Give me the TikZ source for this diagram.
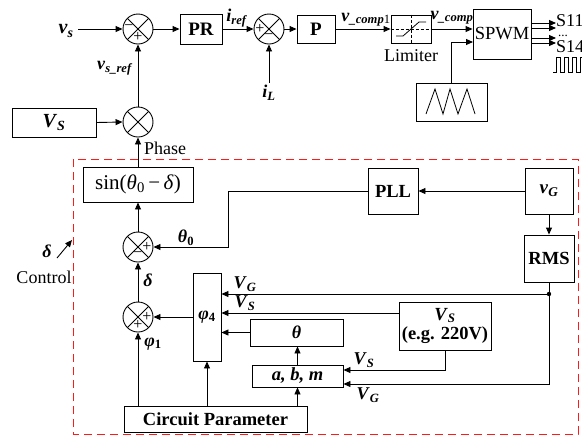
\documentclass[tikz,border=0pt]{standalone}
\usepackage{fontspec}
\setmainfont{Liberation Serif}
\usetikzlibrary{arrows.meta,calc}
\newcommand\bv[2]{\textbf{\textit{#1}}\textsubscript{\textbf{\textit{#2}}}}
\newcommand\fs[1]{\fontsize{#1}{#1}\selectfont}
\tikzset{
  blk/.style={draw,line width=0.9pt,inner sep=0pt,align=center},
  sumj/.style={circle,draw,line width=0.9pt,minimum size=30pt,inner sep=0pt,
    path picture={\draw[line width=0.9pt] (path picture bounding box.north west)--(path picture bounding box.south east)
      (path picture bounding box.north east)--(path picture bounding box.south west);}},
  arr/.style={line width=0.9pt,-{Triangle[length=7pt,width=6pt]}},
  ln/.style={line width=0.9pt},
  lbl/.style={inner sep=0pt,font=\fs{18}},
  sgn/.style={inner sep=0pt,font=\fs{16}},
  txt/.style={inner sep=0pt,font=\fs{18}},
}
\begin{document}
\begin{tikzpicture}[x=1pt,y=-1pt]
\useasboundingbox (0,0) rectangle (582,437);
% red dashed control area
\draw[red!90!white,line width=1pt,dash pattern=on 8pt off 5pt] (73,159) rectangle (578,434);

% summing junctions
\node[sumj] (s1) at (138,29) {};
\node[sumj] (s2) at (269,29) {};
\node[sumj] (m) at (138,122) {};
\node[sumj] (s3) at (138,247) {};
\node[sumj] (s4) at (138,317) {};
\node[sgn] at ($(s1)+(-9,-1)$) {−};
\node[sgn] at ($(s1)+(0,8)$) {+};
\node[sgn] at ($(s2)+(-9,0)$) {+};
\node[sgn] at ($(s2)+(0,8)$) {−};
\node[sgn] at ($(s3)+(9,0)$) {+};
\node[sgn] at ($(s3)+(0,8)$) {−};
\node[sgn] at ($(s4)+(9,0)$) {+};
\node[sgn] at ($(s4)+(0,8)$) {+};

% blocks
\node[blk,minimum width=42pt,minimum height=30pt,font=\fs{19}\bfseries] (pr) at (201,29) {PR};
\node[blk,minimum width=38pt,minimum height=28pt,font=\fs{19}\bfseries] (p) at (316,29) {P};
\node[blk,minimum width=40pt,minimum height=28pt] (lim) at (411,29) {};
\node[blk,minimum width=58pt,minimum height=50pt,font=\fs{18.5}] (spwm) at (502,34) {SPWM};
\node[blk,minimum width=71pt,minimum height=38pt] (tri) at (451.5,102) {};
\node[blk,minimum width=84pt,minimum height=29pt,font=\fs{20}] (vs) at (54,122.5) {\bv{V}{S}};
\node[blk,minimum width=110pt,minimum height=35pt,font=\fs{21}] (sin) at (138,184.5) {sin(\textit{θ}\textsubscript{0}\,−\,\textit{δ})};
\node[blk,minimum width=50pt,minimum height=46pt,font=\fs{18.5}\bfseries] (pll) at (393,191) {PLL};
\node[blk,minimum width=48pt,minimum height=46pt,font=\fs{19}] (vg) at (549,191) {\bv{v}{G}};
\node[blk,minimum width=50pt,minimum height=47pt,font=\fs{18.5}\bfseries] (rms) at (549,258.5) {RMS};
\node[blk,minimum width=28pt,minimum height=88pt,font=\fs{18}] (phi4) at (207,317) {\textbf{\textit{φ}}\textsubscript{\textbf{4}}};
\node[blk,minimum width=93pt,minimum height=27pt,font=\fs{18}\bfseries\itshape] (theta) at (296.5,332.5) {θ};
\node[blk,minimum width=91pt,minimum height=22pt,font=\fs{18.5}\bfseries\itshape] (abm) at (297.5,376) {a, b, m};
\node[blk,minimum width=92pt,minimum height=48pt,font=\fs{18.5}\bfseries,align=center] (vseg) at (445,326) {\textit{V}\textsubscript{\textit{S}}\\[1pt](e.g. 220V)};
\node[blk,minimum width=183pt,minimum height=26pt,font=\fs{18.5}\bfseries] (cp) at (215.5,419) {Circuit Parameter};

% limiter symbol
\draw[line width=0.6pt,dash pattern=on 3pt off 2pt] (lim.west) -- (lim.east);
\draw[line width=0.6pt,dash pattern=on 3pt off 2pt] (lim.north) -- (lim.south);
\draw[line width=0.8pt] (396,36) -- (403,36) -- (419,22) -- (426,22);
\node[txt] (limlbl) at (411,56) {Limiter};

% triangle wave
\draw[line width=0.8pt] (426,114) -- (435,89) -- (443,114) -- (450,89) -- (458,114) -- (467,89) -- (475,114);

% top loop connectors
\coordinate (vsin) at (78,29);
\draw[arr] (vsin) -- (s1.west);
\node[inner sep=0pt,font=\fs{20}] at (66,31) {\bv{v}{s}};
\draw[arr] (s1.east) -- (pr.west);
\draw[arr] (pr.east) -- (s2.west);
\node[lbl] at (237,18) {\bv{i}{ref}};
\draw[arr] (s2.east) -- (p.west);
\coordinate (iL) at (269,83);
\draw[arr] (iL) -- (s2.south);
\node[lbl] at (269,93) {\bv{i}{L}};
\draw[arr] (p.east) -- (lim.west);
\node[lbl,anchor=base] at (366,21) {\textbf{\textit{v}}\textsubscript{\textbf{\textit{\_comp}}1}};
\draw[arr] (lim.east) -- (spwm.west |- lim.east);
\node[lbl,anchor=base] at (452,19) {\textbf{\textit{v}}\textsubscript{\textbf{\textit{\_comp}}}};
\coordinate (spin) at (473,42);
\draw[arr] (tri.north) |- (spin);

% SPWM outputs
\coordinate (o1) at (556,23);
\coordinate (o2) at (556,28);
\coordinate (o3) at (556,38);
\coordinate (o4) at (556,43);
\foreach \o in {o1,o2,o3,o4} \draw[arr] (spwm.east |- \o) -- (\o);
\node[txt,anchor=base west] at (556,26) {S11};
\node[inner sep=0pt,font=\fs{13},anchor=base west] at (558,36) {...};
\node[txt,anchor=base west] at (556,52) {S14};
\draw[line width=0.6pt] (553,72) -- (556,72) -- (556,57) -- (560,57) -- (560,72) -- (564,72) -- (564,57) -- (568,57) -- (568,72) -- (572,72) -- (572,57) -- (576,57) -- (576,72) -- (580,72) -- (580,57) -- (584,57);

% reference generation
\draw[arr] (vs.east) -- (m.west);
\draw[arr] (m.north) -- (s1.south);
\node[lbl,anchor=east] at (133,68) {\bv{v}{s\_ref}};
\draw[arr] (sin.north) -- (m.south);
\node[txt] at (165,148) {Phase};

% control block connectors
\draw[arr] (s3.north) -- (sin.south);
\coordinate (thc) at (228,191);
\draw[arr] (pll.west) -- (thc) |- (s3.east);
\node[lbl] at (186,238) {\textbf{\textit{θ}}\textsubscript{\textbf{0}}};
\draw[arr] (vg.west) -- (pll.east);
\draw[arr] (vg.south) -- (rms.north);
\coordinate (dot) at (549,294);
\draw[ln] (rms.south) -- (dot);
\fill (dot) circle (2.2);
\draw[arr] (dot) -- (phi4.east |- dot);
\node[lbl] at (245,284) {\bv{V}{G}};
\coordinate (dc) at (549,384);
\draw[arr] (dot) -- (dc) -- (abm.east |- dc);
\node[lbl] at (368,395) {\bv{V}{G}};
\coordinate (vsl) at (399,313);
\draw[arr] (vsl) -- (phi4.east |- vsl);
\node[lbl] at (245,303) {\bv{V}{S}};
\coordinate (vsd) at (445,370);
\draw[arr] (vseg.south) -- (vsd) -- (abm.east |- vsd);
\node[lbl] at (364,360) {\bv{V}{S}};
\draw[arr] (theta.west) -- (phi4.east |- theta.west);
\draw[arr] (abm.north) -- (abm.north |- theta.south);
\draw[arr] (cp.north -| abm.north) -- (abm.south);
\draw[arr] (cp.north -| phi4.south) -- (phi4.south);
\draw[arr] (cp.north -| s4.south) -- (s4.south);
\draw[arr] (phi4.west |- s4.east) -- (s4.east);
\node[lbl] at (153,344) {\textbf{\textit{φ}}\textsubscript{\textbf{1}}};
\draw[arr] (s4.north) -- (s3.south);
\node[lbl] at (148,280) {\textbf{\textit{δ}}};

% external control label
\coordinate (ca) at (57,258);
\coordinate (cb) at (72,240);
\draw[arr] (ca) -- (cb);
\node[lbl] at (47,251) {\textbf{\textit{δ}}};
\node[txt] at (44,277) {Control};
\end{tikzpicture}
\end{document}
